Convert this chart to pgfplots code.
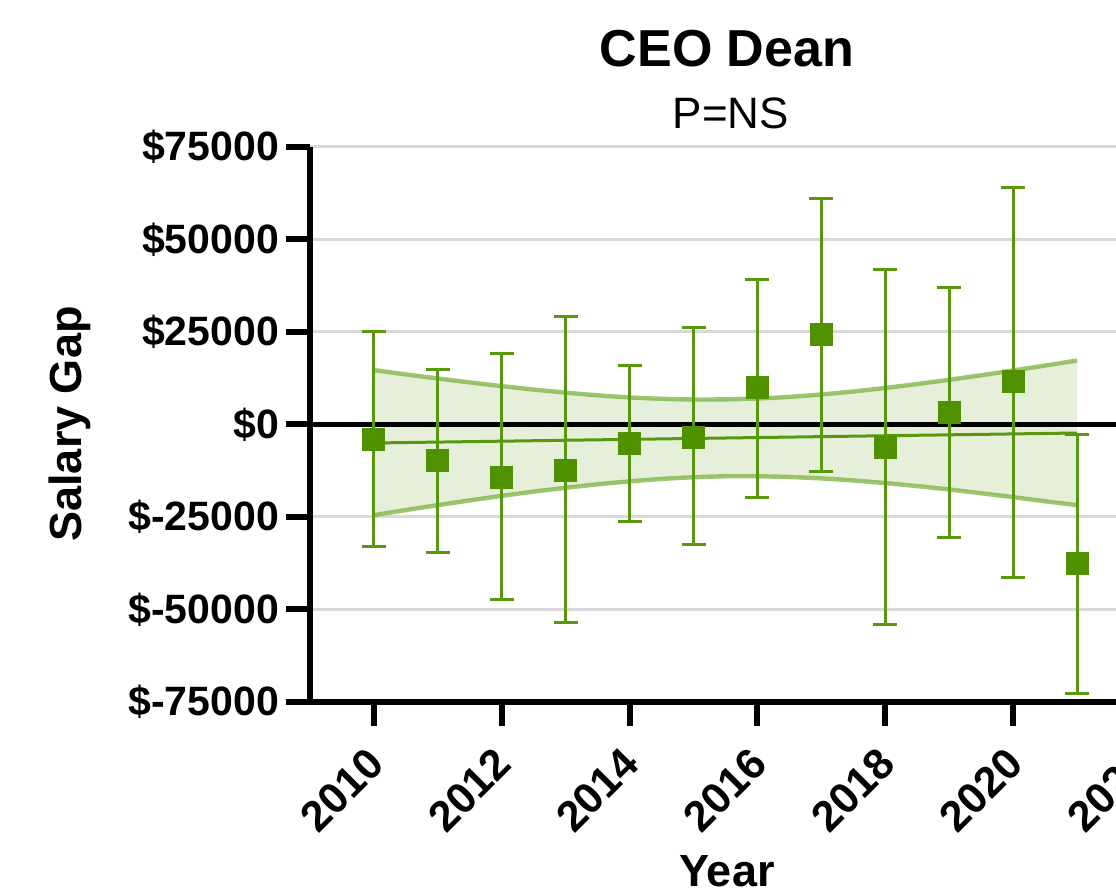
\documentclass[border=0pt]{standalone}
\usepackage{pgfplots}
\pgfplotsset{compat=1.18}
\usepgfplotslibrary{fillbetween}
\usepackage{pgfplotstable}
\usepackage{fontspec}
\setmainfont{Liberation Sans}
\definecolor{dgreen}{RGB}{80,145,0}
\definecolor{ebgreen}{RGB}{88,152,12}
\definecolor{bandedge}{RGB}{125,178,65}
\definecolor{bandfill}{RGB}{195,218,165}
\definecolor{gridgray}{RGB}{217,217,217}

\pgfplotstableread{
x y ep em
2010 -4000 29000 29000
2011 -9700 24600 24800
2012 -14300 33400 33100
2013 -12400 41500 41200
2014 -5100 21100 21200
2015 -3400 29500 28900
2016 9900 29300 29500
2017 24400 36800 37100
2018 -6100 48000 47900
2019 3300 33700 33900
2020 11500 52600 52900
2021 -37500 34800 35200
}\means

\pgfplotstableread{
x hi lo
2010 14700 -24500
2010.5 13550 -23130
2011 12440 -21800
2011.5 11380 -20520
2012 10370 -19290
2012.5 9450 -18150
2013 8610 -17110
2013.5 7890 -16170
2014 7320 -15380
2014.5 6950 -14710
2015 6760 -14260
2015.5 6800 -14000
2016 7020 -14000
2016.5 7470 -14190
2017 8120 -14580
2017.5 8930 -15130
2018 9880 -15840
2018.5 10950 -16650
2019 12090 -17570
2019.5 13320 -18580
2020 14600 -19640
2020.5 15930 -20750
2021 17300 -21800
}\band

\begin{document}
\begin{tikzpicture}
\begin{axis}[
  at={(0,0)}, anchor=south west,
  scale only axis, width=415.5pt, height=277.5pt,
  xmin=2009, xmax=2022, ymin=-75000, ymax=75000,
  axis lines*=left,
  axis line style={line width=3pt, black},
  tick align=outside,
  major tick length=12pt,
  tick style={line width=3pt, black},
  xtick={2010,2012,...,2022},
  xticklabels={2010,2012,2014,2016,2018,2020,2022},
  ytick={-75000,-50000,-25000,0,25000,50000,75000},
  yticklabels={\$-75000,\$-50000,\$-25000,\$0,\$25000,\$50000,\$75000},
  ticklabel style={font=\fontsize{20.5}{24}\selectfont\bfseries},
  xticklabel style={font=\fontsize{21.5}{24}\selectfont\bfseries, rotate=45, anchor=north east, xshift=-6.5pt, yshift=0pt},
  ymajorgrids,
  grid style={gridgray, line width=1.5pt},
  scaled y ticks=false,
]
\addplot[black, line width=2.5pt, forget plot] coordinates {(2009,0) (2022,0)};
\addplot[name path=U, draw=bandedge, draw opacity=0.75, line width=2.2pt, smooth] table[x=x, y=hi] {\band};
\addplot[name path=L, draw=bandedge, draw opacity=0.75, line width=2.2pt, smooth] table[x=x, y=lo] {\band};
\addplot[bandfill, fill opacity=0.42, draw=none] fill between[of=U and L];
\addplot[ebgreen, line width=1.5pt] coordinates {(2010,-5000) (2021,-2300)};
\addplot[only marks, mark=square*, mark size=5.5pt, mark options={fill=dgreen, draw=dgreen, line width=0pt},
  error bars/.cd, y dir=both, y explicit,
  error bar style={ebgreen, line width=1.5pt},
  error mark options={ebgreen, line width=1.5pt, mark size=6pt, rotate=90}]
  table[x=x, y=y, y error plus=ep, y error minus=em] {\means};
\end{axis}
\node[anchor=base, font=\fontsize{26}{30}\selectfont\bfseries] at (208.5pt,317.5pt) {CEO Dean};
\node[anchor=base, font=\fontsize{22}{26}\selectfont] at (210.5pt,286.5pt) {P=NS};
\node[rotate=90, font=\fontsize{22.5}{26}\selectfont\bfseries] at (-120pt,139pt) {Salary Gap};
\node[anchor=base, font=\fontsize{22.5}{26}\selectfont\bfseries] at (208.5pt,-92.5pt) {Year};
\pgfresetboundingbox
\path[use as bounding box] (-155pt,-93pt) rectangle (403pt,351pt);
\end{tikzpicture}
\end{document}
